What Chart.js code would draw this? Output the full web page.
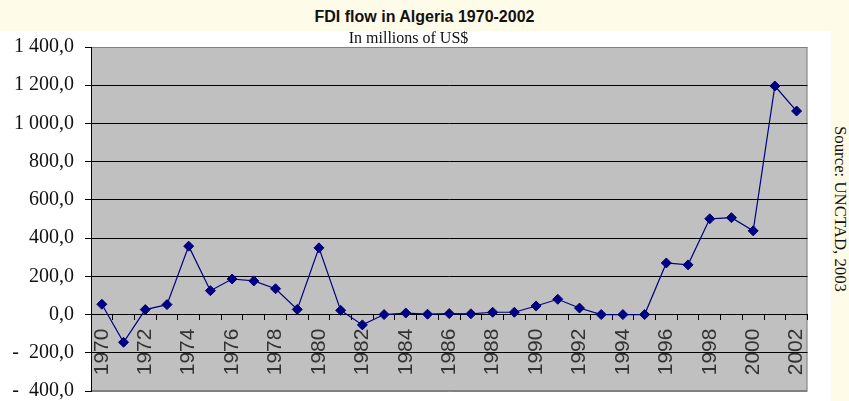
<!DOCTYPE html>
<html>
<head>
<meta charset="utf-8">
<script src="https://cdn.jsdelivr.net/npm/chart.js@4/dist/chart.umd.min.js"></script>
<style>
  html, body { margin: 0; padding: 0; }
  body { width: 849px; height: 401px; background: #fffbe9; position: relative; overflow: hidden; }
  #titre { position: absolute; left: 0; top: 8px; width: 849px; text-align: center;
           font: bold 16px "Liberation Sans", Arial, sans-serif; color: #111; }
  #cadre { position: absolute; left: 0; top: 31px; width: 831px; height: 370px; background: #fff; }
  #source { position: absolute; left: 832px; top: 126px; writing-mode: vertical-rl;
            font: 16.8px "Liberation Serif", "Times New Roman", serif; line-height: 16px; color: #111; }
</style>
</head>
<body>
<div id="titre">FDI flow in Algeria 1970-2002</div>
<div id="cadre"><canvas id="graficoFDI" width="831" height="370"></canvas></div>
<div id="source">Source: UNCTAD, 2003</div>
<script>
const annees = ["1970","1971","1972","1973","1974","1975","1976","1977","1978","1979",
  "1980","1981","1982","1983","1984","1985","1986","1987","1988","1989",
  "1990","1991","1992","1993","1994","1995","1996","1997","1998","1999",
  "2000","2001","2002"];
const fluxIDE = [54, -145, 26, 52, 358, 125, 186, 176, 135, 27,
  349, 22, -54, 0, 8, 2, 5, 4, 12, 12,
  45, 80, 34, 0, 0, 0, 270, 260, 501, 507,
  438, 1196, 1065];
const valeursY = [-400, -200, 0, 200, 400, 600, 800, 1000, 1200, 1400];
const etiquettesY = ["-  400,0", "-  200,0", "0,0", "200,0", "400,0", "600,0",
  "800,0", "1 000,0", "1 200,0", "1 400,0"];

const fondGris = {
  id: "fondGris",
  beforeDraw(chart) {
    const { ctx, chartArea: a } = chart;
    ctx.save();
    ctx.fillStyle = "#c0c0c0";
    ctx.fillRect(a.left, a.top, a.right - a.left, a.bottom - a.top);
    ctx.strokeStyle = "#808080";
    ctx.lineWidth = 1;
    ctx.strokeRect(a.left + 0.5, a.top + 0.5, a.right - a.left - 1, a.bottom - a.top - 1);
    ctx.restore();
  }
};

new Chart(document.getElementById("graficoFDI"), {
  type: "line",
  data: {
    labels: annees,
    datasets: [{
      label: "FDI",
      data: fluxIDE,
      borderColor: "#000080",
      backgroundColor: "#000080",
      borderWidth: 1.2,
      tension: 0,
      pointStyle: "rectRot",
      pointRadius: 5,
      pointBorderWidth: 1,
      pointBackgroundColor: "#000080",
      pointBorderColor: "#000080"
    }]
  },
  plugins: [fondGris],
  options: {
    responsive: false,
    animation: false,
    layout: { padding: { left: 0, right: 14, top: 0, bottom: 10 } },
    plugins: {
      legend: { display: false },
      tooltip: { enabled: false },
      title: {
        display: true,
        text: "In millions of US$",
        color: "#111",
        font: { family: "'Liberation Serif', 'Times New Roman', serif", size: 16, weight: "normal", lineHeight: 1 },
        padding: { top: 0, bottom: 0 }
      }
    },
    scales: {
      x: {
        type: "category",
        position: { y: 0 },
        offset: true,
        grid: { offset: true, drawOnChartArea: false, drawTicks: true, tickLength: 5, color: "#000" },
        border: { display: true, color: "#000", width: 1 },
        ticks: {
          autoSkip: false,
          minRotation: 90,
          maxRotation: 90,
          padding: 9,
          color: "#333",
          font: { family: "'Liberation Sans', Arial, sans-serif", size: 21 },
          callback: (v, i) => (i % 2 === 0 ? annees[i] : "")
        }
      },
      y: {
        min: -400,
        max: 1400,
        afterFit: (s) => { s.width = 91; s.paddingTop = 0; s.paddingBottom = 0; },
        afterBuildTicks: (s) => { s.ticks = valeursY.map(v => ({ value: v })); },
        grid: {
          color: (c) => (c.tick && (c.tick.value === 1400 || c.tick.value === -400) ? "#808080" : "#000"),
          tickColor: "#000",
          tickLength: 6,
          lineWidth: 1
        },
        border: { display: true, color: "#000", width: 1 },
        ticks: {
          padding: 11,
          color: "#111",
          font: { family: "'Liberation Serif', 'Times New Roman', serif", size: 20 },
          callback: (v) => etiquettesY[valeursY.indexOf(v)]
        }
      }
    }
  }
});
</script>
</body>
</html>
